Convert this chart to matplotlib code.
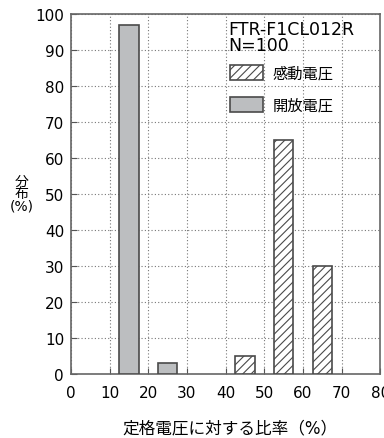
import matplotlib
matplotlib.use('Agg')
import matplotlib.pyplot as plt
import numpy as np

plt.rcParams['font.family'] = ['DejaVu Sans', 'Noto Sans CJK JP']
plt.rcParams['hatch.linewidth'] = 0.8
plt.rcParams['hatch.color'] = '#333333'

# data
open_x = [15, 25]
open_pct = [97, 3]
op_x = [45, 55, 65]
op_pct = [5, 65, 30]
xticks = list(range(0, 90, 10))
yticks = list(range(0, 110, 10))

fig = plt.figure(figsize=(3.84, 4.39), dpi=100)
ax = fig.add_axes([0.185, 0.146, 0.805, 0.820])

edge = '#4a4a4a'
ax.bar(op_x, op_pct, width=5, color='white', edgecolor=edge, hatch='////',
       linewidth=1.2, label='感動電圧', zorder=3)
ax.bar(open_x, open_pct, width=5, color='#bcbec0', edgecolor=edge,
       linewidth=1.2, label='開放電圧', zorder=3)

ax.set_xlim(0, 80)
ax.set_ylim(0, 100)
ax.set_xticks(xticks)
ax.set_yticks(yticks)
ax.grid(True, linestyle=(0, (1, 2)), color='#777777', linewidth=0.8)
ax.tick_params(direction='in', length=4, labelsize=11, color='#555555')
ax.tick_params(axis='x', pad=8)
ax.tick_params(axis='y', pad=5)
for s in ax.spines.values():
    s.set_color('#666666')
    s.set_linewidth(1.2)

# header above the legend
ax.text(0.508, 0.982, 'FTR-F1CL012R\nN=100', transform=ax.transAxes,
        ha='left', va='top', fontsize=12.5, linespacing=0.8)
leg = ax.legend(loc='upper left', bbox_to_anchor=(0.515, 0.857), frameon=False,
                handlelength=2.15, handleheight=1.1, labelspacing=1.05,
                fontsize=11, handletextpad=0.6, borderpad=0, borderaxespad=0)

fig.text(0.057, 0.558, '分\n布\n(%)', ha='center', va='center', fontsize=10,
         linespacing=0.85)
fig.text(0.599, 0.025, '定格電圧に対する比率（%）', ha='center', va='center',
         fontsize=12)

fig.savefig('out.png', dpi=100)
